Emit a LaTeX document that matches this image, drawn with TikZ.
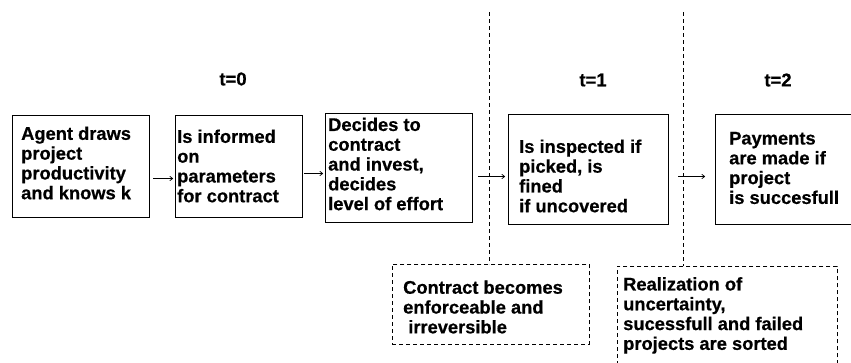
\documentclass[tikz,border=0pt]{standalone}
\usepackage{fontspec}
\setmainfont{Liberation Sans}
\newfontfamily\heavyfont{Liberation Sans Bold}[FakeBold=0.6]
\usetikzlibrary{arrows.meta,calc}
\begin{document}
\begin{tikzpicture}[x=1pt,y=1pt,
  txt/.style={font=\heavyfont\fontsize{18.3}{19.8}\selectfont, align=left, inner sep=0pt},
  box/.style={draw, line width=1pt, anchor=north west, inner sep=0pt},
  dbox/.style={draw, dash pattern=on 4pt off 3pt, line width=0.8pt, anchor=north west, inner sep=0pt},
  arr/.style={-{To[length=3.5pt,width=5pt]}, line width=0.7pt},
  vline/.style={dash pattern=on 4pt off 3pt, line width=0.7pt},
  tlab/.style={font=\heavyfont\fontsize{18.5}{20}\selectfont, inner sep=0pt}]
\useasboundingbox (0,0) rectangle (851,-362);
% time labels
\node[tlab] (t0) at (233,-79) {t=0};
\node[tlab] (t1) at (593,-80) {t=1};
\node[tlab] (t2) at (778,-80) {t=2};
% main boxes
\node[box, minimum width=137, minimum height=102] (b1) at (12,-115) {};
\node[txt, anchor=west] (x1) at (21,-163) {Agent draws\\project\\productivity\\and knows k};
\node[box, minimum width=127, minimum height=102] (b2) at (175,-115) {};
\node[txt, anchor=west] (x2) at (177,-166) {Is informed\\on\\parameters\\for contract};
\node[box, minimum width=147, minimum height=109] (b3) at (325,-113) {};
\node[txt, anchor=west] (x3) at (328,-164) {Decides to\\contract\\and invest,\\decides\\level of effort};
\node[box, minimum width=160, minimum height=110] (b4) at (508,-114) {};
\node[txt, anchor=west] (x4) at (519,-176) {Is inspected if\\picked, is\\fined\\if uncovered};
\node[box, minimum width=160, minimum height=110] (b5) at (715,-114) {};
\node[txt, anchor=west] (x5) at (729,-168) {Payments\\are made if\\project\\is succesfull};
% arrows
\draw[arr] ($(b1.east)+(3,-12)$) -- ($(b2.west)+(-2,-12)$);
\draw[arr] ($(b2.east)+(1,-7)$) -- ($(b3.west)+(-2,-5.5)$);
\draw[arr] ($(b3.east)+(5,-8.5)$) -- ($(b4.west)+(-3,-7)$);
\draw[arr] ($(b4.east)+(9,-7)$) -- ($(b5.west)+(-10,-7)$);
% dashed boxes
\node[dbox, minimum width=197, minimum height=80] (d1) at (392,-264) {};
\node[txt, anchor=west] (y1) at (403,-307) {Contract becomes\\enforceable and\\\ irreversible};
\node[dbox, minimum width=220, minimum height=130] (d2) at (617,-266) {};
\node[txt, anchor=north west] (y2) at (623,-277) {Realization of\\uncertainty,\\sucessfull and failed\\projects are sorted};
% vertical dashed lines
\coordinate (v1) at (489,-12);
\coordinate (v2) at (683,-12);
\draw[vline] (v1) -- (v1 |- d1.north);
\draw[vline] (v2) -- (v2 |- d2.north);
\end{tikzpicture}
\end{document}
